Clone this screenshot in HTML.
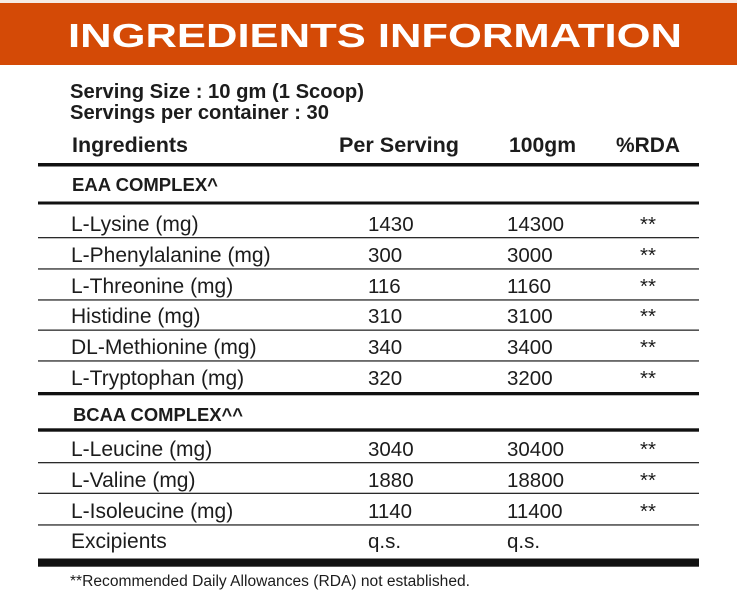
<!DOCTYPE html>
<html>
<head>
<meta charset="utf-8">
<style>
  html,body{margin:0;padding:0;background:#fff;}
  svg{display:block;}
  text{font-family:"Liberation Sans",Arial,sans-serif;fill:#1c1c1c;}
  .b{font-weight:bold;}
</style>
</head>
<body>
<svg width="737" height="597" viewBox="0 0 737 597" xmlns="http://www.w3.org/2000/svg">
  <rect x="0" y="0" width="737" height="597" fill="#ffffff"/>
  <rect x="0" y="0" width="737" height="3" fill="#f6ebe4"/>
  <rect x="0" y="3" width="737" height="62" fill="#d44a06"/>
  <text x="68" y="47" font-size="33" class="b" style="fill:#ffffff" textLength="614" lengthAdjust="spacingAndGlyphs">INGREDIENTS INFORMATION</text>

  <text x="70" y="98" font-size="20" class="b" textLength="294" lengthAdjust="spacingAndGlyphs">Serving Size : 10 gm (1 Scoop)</text>
  <text x="70" y="119" font-size="20" class="b" textLength="259" lengthAdjust="spacingAndGlyphs">Servings per container : 30</text>

  <text x="72" y="152" font-size="21.5" class="b" textLength="116" lengthAdjust="spacingAndGlyphs">Ingredients</text>
  <text x="339" y="152" font-size="21.5" class="b" textLength="120" lengthAdjust="spacingAndGlyphs">Per Serving</text>
  <text x="509" y="152" font-size="21.5" class="b" textLength="67" lengthAdjust="spacingAndGlyphs">100gm</text>
  <text x="616" y="152" font-size="21.5" class="b" textLength="64" lengthAdjust="spacingAndGlyphs">%RDA</text>

  <rect x="38" y="163" width="661" height="3.5" fill="#111"/>
  <text x="72" y="191" font-size="18.5" class="b" textLength="146" lengthAdjust="spacingAndGlyphs">EAA COMPLEX^</text>
  <rect x="38" y="201.5" width="661" height="3" fill="#111"/>

  <g font-size="21">
    <text x="71" y="231">L-Lysine (mg)</text>
    <text x="71" y="262">L-Phenylalanine (mg)</text>
    <text x="71" y="293">L-Threonine (mg)</text>
    <text x="71" y="323">Histidine (mg)</text>
    <text x="71" y="354">DL-Methionine (mg)</text>
    <text x="71" y="385">L-Tryptophan (mg)</text>
  </g>
  <g font-size="20.5">
    <text x="368" y="231">1430</text>
    <text x="368" y="262">300</text>
    <text x="368" y="293">116</text>
    <text x="368" y="323">310</text>
    <text x="368" y="354">340</text>
    <text x="368" y="385">320</text>
    <text x="507" y="231">14300</text>
    <text x="507" y="262">3000</text>
    <text x="507" y="293">1160</text>
    <text x="507" y="323">3100</text>
    <text x="507" y="354">3400</text>
    <text x="507" y="385">3200</text>
    <text x="640" y="231">**</text>
    <text x="640" y="262">**</text>
    <text x="640" y="293">**</text>
    <text x="640" y="323">**</text>
    <text x="640" y="354">**</text>
    <text x="640" y="385">**</text>
  </g>
  <g fill="#2a2a2a">
    <rect x="38" y="237" width="661" height="1.3"/>
    <rect x="38" y="268.3" width="661" height="1.3"/>
    <rect x="38" y="299.3" width="661" height="1.3"/>
    <rect x="38" y="329.5" width="661" height="1.3"/>
    <rect x="38" y="360.3" width="661" height="1.3"/>
  </g>
  <rect x="38" y="392" width="661" height="3.3" fill="#111"/>
  <text x="73" y="421" font-size="18.5" class="b" textLength="170" lengthAdjust="spacingAndGlyphs">BCAA COMPLEX^^</text>
  <rect x="38" y="428.3" width="661" height="3.4" fill="#111"/>

  <g font-size="21">
    <text x="71" y="456">L-Leucine (mg)</text>
    <text x="71" y="487">L-Valine (mg)</text>
    <text x="71" y="518">L-Isoleucine (mg)</text>
    <text x="71" y="548">Excipients</text>
  </g>
  <g font-size="20.5">
    <text x="368" y="456">3040</text>
    <text x="368" y="487">1880</text>
    <text x="368" y="518">1140</text>
    <text x="368" y="548">q.s.</text>
    <text x="507" y="456">30400</text>
    <text x="507" y="487">18800</text>
    <text x="507" y="518">11400</text>
    <text x="507" y="548">q.s.</text>
    <text x="640" y="456">**</text>
    <text x="640" y="487">**</text>
    <text x="640" y="518">**</text>
  </g>
  <g fill="#2a2a2a">
    <rect x="38" y="462" width="661" height="1.3"/>
    <rect x="38" y="492.7" width="661" height="1.3"/>
    <rect x="38" y="524.3" width="661" height="1.3"/>
  </g>
  <rect x="38" y="558.5" width="661" height="8.2" fill="#111"/>

  <text x="70" y="586" font-size="15.5" textLength="400" lengthAdjust="spacingAndGlyphs">**Recommended Daily Allowances (RDA) not established.</text>
</svg>
</body>
</html>
